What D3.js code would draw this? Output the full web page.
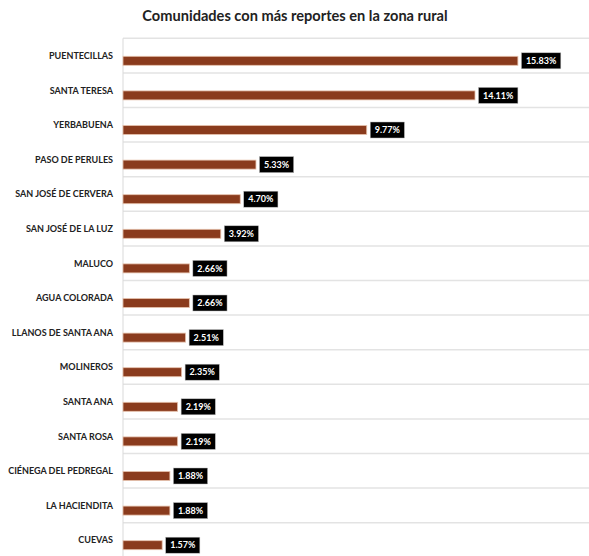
<!DOCTYPE html>
<html>
<head>
<meta charset="utf-8">
<script src="https://cdn.jsdelivr.net/npm/d3@7"></script>
<style>
html,body{margin:0;padding:0;background:#fff;}
svg{display:block;}
</style>
</head>
<body>
<script>
const categories = ["PUENTECILLAS","SANTA TERESA","YERBABUENA","PASO DE PERULES","SAN JOSÉ DE CERVERA","SAN JOSÉ DE LA LUZ","MALUCO","AGUA COLORADA","LLANOS DE SANTA ANA","MOLINEROS","SANTA ANA","SANTA ROSA","CIÉNEGA DEL PEDREGAL","LA HACIENDITA","CUEVAS"];
const values = [15.83,14.11,9.77,5.33,4.70,3.92,2.66,2.66,2.51,2.35,2.19,2.19,1.88,1.88,1.57];
const valueLabels = ["15.83%","14.11%","9.77%","5.33%","4.70%","3.92%","2.66%","2.66%","2.51%","2.35%","2.19%","2.19%","1.88%","1.88%","1.57%"];
const title = "Comunidades con más reportes en la zona rural";

const W = 589, H = 556;
const svg = d3.select("body").append("svg").attr("width", W).attr("height", H);

const x = d3.scaleLinear().domain([0, 18.68]).range([123, 589]);
const y = d3.scaleBand().domain(categories).range([38.3, 38.3 + 15*34.6]).padding(0);

svg.append("text")
  .attr("x", 295).attr("y", 21)
  .attr("text-anchor", "middle")
  .attr("font-family", "Lato, 'Open Sans', sans-serif")
  .attr("font-weight", 700)
  .attr("font-size", 14.6)
  .attr("fill", "#222")
  .text(title);

// gridlines (band boundaries)
const g = svg.append("g");
g.selectAll("line.grid").data(categories).join("line")
  .attr("class","grid")
  .attr("x1", 123).attr("x2", W)
  .attr("y1", d => y(d)).attr("y2", d => y(d))
  .attr("stroke", "#e3e3e3").attr("stroke-width", 1.5);
// axis line
g.append("line").attr("x1", 123).attr("x2", 123).attr("y1", y.range()[0]).attr("y2", H)
  .attr("stroke", "#d9d9d9").attr("stroke-width", 1);

// category labels
g.selectAll("text.cat").data(categories).join("text")
  .attr("class","cat")
  .attr("x", 113).attr("y", d => y(d) + 17.5)
  .attr("dy", "0.35em")
  .attr("text-anchor", "end")
  .attr("font-family", "Lato, 'Open Sans', sans-serif")
  .attr("font-weight", 700)
  .attr("font-size", 9)
  .attr("fill", "#222")
  .text(d => d);

// bars
g.selectAll("rect.bar").data(values).join("rect")
  .attr("class","bar")
  .attr("x", x(0))
  .attr("y", (d,i) => y(categories[i]) + 18)
  .attr("width", d => x(d) - x(0))
  .attr("height", 9)
  .attr("fill", "#8a3b1d")
  .attr("stroke", "#e6c2ad").attr("stroke-width", 0.8);

// value labels
const lab = g.selectAll("g.lab").data(values).join("g").attr("class","lab");
lab.each(function(d,i){
  const sel = d3.select(this);
  const cy = y(categories[i]) + 22.5;
  const t = sel.append("text")
    .attr("font-family", "Lato, 'Open Sans', sans-serif")
    .attr("font-weight", 700)
    .attr("font-size", 9)
    .attr("fill", "#fff")
    .attr("dy", "0.35em")
    .attr("y", cy)
    .text(valueLabels[i]);
  const tw = t.node().getComputedTextLength();
  const bx = x(d) + 3.5;
  const bw = tw + 9;
  sel.insert("rect", "text")
    .attr("x", bx).attr("y", cy - 8)
    .attr("width", bw).attr("height", 16)
    .attr("fill", "#000")
    .attr("stroke", "#bbb").attr("stroke-width", 0.5);
  t.attr("x", bx + bw/2).attr("text-anchor", "middle");
});
</script>
</body>
</html>
